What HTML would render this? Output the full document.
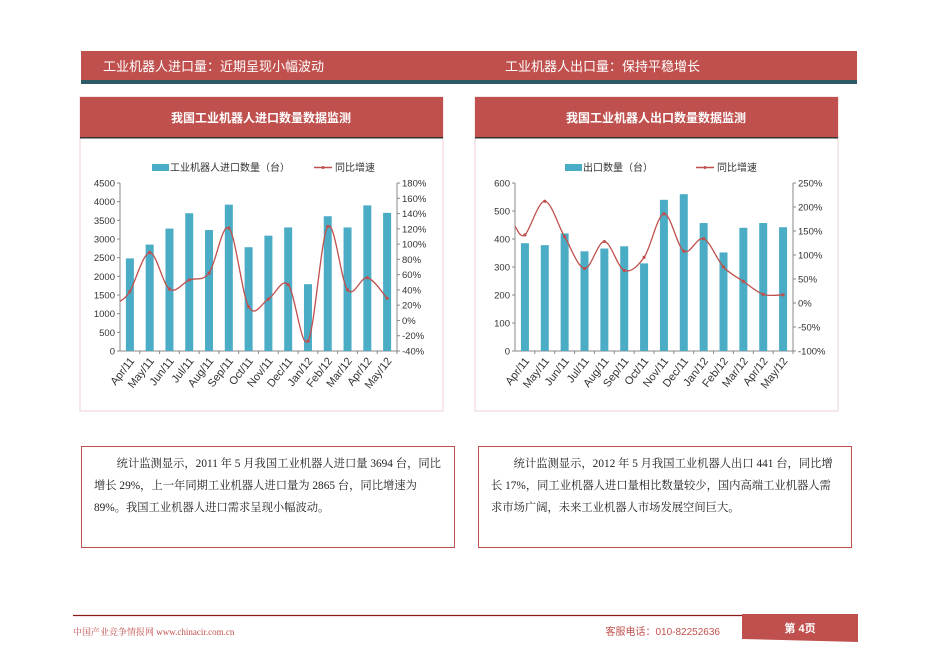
<!DOCTYPE html>
<html><head><meta charset="utf-8"><style>
body{margin:0;background:#fff;width:936px;height:662px;overflow:hidden;font-family:"Liberation Sans","Noto Sans CJK SC",sans-serif}
svg{position:absolute;left:0;top:0}
.tb{position:absolute;border:1px solid #c0504d;font-family:"Liberation Serif","Noto Serif CJK SC",serif;font-size:11.3px;line-height:22px;color:#222;padding:6px 12px;box-sizing:border-box;text-indent:2em}
</style></head><body>
<svg id="s" width="936" height="662" font-family="Liberation Sans, Noto Sans CJK SC, sans-serif"></svg>
<div class="tb" style="left:81px;top:446px;width:374px;height:102px">统计监测显示，2011 年 5 月我国工业机器人进口量 3694 台，同比增长 29%，上一年同期工业机器人进口量为 2865 台，同比增速为 89%。我国工业机器人进口需求呈现小幅波动。</div>
<div class="tb" style="left:478px;top:446px;width:374px;height:102px">统计监测显示，2012 年 5 月我国工业机器人出口 441 台，同比增长 17%，同工业机器人进口量相比数量较少，国内高端工业机器人需求市场广阔，未来工业机器人市场发展空间巨大。</div>
<script>
const s=document.getElementById('s');let h='';
const red='#c0504d';
h+=`<rect x="81" y="51" width="776" height="30" fill="${red}"/><rect x="81" y="80" width="776" height="4" fill="#2e5a66"/>`;
h+=`<text x="103" y="71" fill="#fff" font-size="13">工业机器人进口量：近期呈现小幅波动</text><text x="505" y="71" fill="#fff" font-size="13">工业机器人出口量：保持平稳增长</text>`;
const cats=['Apr/11','May/11','Jun/11','Jul/11','Aug/11','Sep/11','Oct/11','Nov/11','Dec/11','Jan/12','Feb/12','Mar/12','Apr/12','May/12'];
function path(p){let d=`M${p[0][0]},${p[0][1]}`;for(let i=0;i<p.length-1;i++){const a=p[i-1]||p[i],b=p[i],c=p[i+1],e=p[i+2]||c;d+=` C${b[0]+(c[0]-a[0])/6},${b[1]+(c[1]-a[1])/6} ${c[0]-(e[0]-b[0])/6},${c[1]-(e[1]-b[1])/6} ${c[0]},${c[1]}`;}return d;}
function chart(px,title,leg,x0,x1,lmax,lstep,rmin,rmax,rstep,rfmt,bars,line,start){
 h+=`<rect x="${px}" y="97" width="363" height="314" fill="#fff" stroke="#eed0d0"/><rect x="${px}" y="97" width="363" height="41" fill="${red}"/><rect x="${px}" y="137" width="363" height="1.5" fill="#333"/>`;
 h+=`<text x="${px+181}" y="122" fill="#fff" font-size="12" font-weight="bold" text-anchor="middle">${title}</text>`;
 const y0=351,y1=183,H=y0-y1,step=(x1-x0)/14;
 h+=`<rect x="${leg[0]}" y="164" width="17" height="7" fill="#4bacc6"/><text x="${leg[0]+18}" y="171" font-size="10" fill="#333">${leg[1]}</text>`;
 h+=`<line x1="${leg[2]}" x2="${leg[2]+18}" y1="167.5" y2="167.5" stroke="${red}" stroke-width="1.5"/><circle cx="${leg[2]+9}" cy="167.5" r="1.5" fill="${red}"/><text x="${leg[2]+21}" y="171" font-size="10" fill="#333">同比增速</text>`;
 h+=`<line x1="${x0}" x2="${x0}" y1="${y1}" y2="${y0}" stroke="#888"/><line x1="${x1}" x2="${x1}" y1="${y1}" y2="${y0}" stroke="#888"/><line x1="${x0}" x2="${x1}" y1="${y0}" y2="${y0}" stroke="#888"/>`;
 for(let v=0;v<=lmax;v+=lstep){const y=y0-v/lmax*H;h+=`<line x1="${x0-3}" x2="${x0}" y1="${y}" y2="${y}" stroke="#888"/><text x="${x0-5}" y="${y+3.5}" font-size="9.5" fill="#333" text-anchor="end">${v}</text>`;}
 for(let v=rmin;v<=rmax;v+=rstep){const y=y0-(v-rmin)/(rmax-rmin)*H;h+=`<line x1="${x1}" x2="${x1+3}" y1="${y}" y2="${y}" stroke="#888"/><text x="${x1+5}" y="${y+3.5}" font-size="9.5" fill="#333">${v}%</text>`;}
 const pts=[[x0,y0-(start-rmin)/(rmax-rmin)*H]];
 for(let i=0;i<14;i++){const cx=x0+step/2+step*i;const bh=bars[i]/lmax*H;
  h+=`<rect x="${cx-4}" y="${y0-bh}" width="8" height="${bh}" fill="#4bacc6"/>`;
  h+=`<line x1="${x0+step*(i+1)}" x2="${x0+step*(i+1)}" y1="${y0}" y2="${y0+3}" stroke="#888"/>`;
  h+=`<text transform="translate(${cx+5},${y0+10}) rotate(-52)" font-size="11" fill="#333" text-anchor="end">${cats[i]}</text>`;
  pts.push([cx,y0-(line[i]-rmin)/(rmax-rmin)*H]);}
 h+=`<path d="${path(pts)}" fill="none" stroke="${red}" stroke-width="1.3"/>`;
 pts.slice(1).forEach(p=>h+=`<circle cx="${p[0]}" cy="${p[1]}" r="1.6" fill="${red}"/>`);
}
chart(80,'我国工业机器人进口数量数据监测',[152,'工业机器人进口数量（台）',314],120,397,4500,500,-40,180,20,0,
 [2480,2850,3280,3690,3240,3920,2780,3090,3310,1790,3610,3310,3900,3700],[38,89,41,53,62,121,18,28,47,-27,123,40,56,29],25);
chart(475,'我国工业机器人出口数量数据监测',[565,'出口数量（台）',696],515,793,600,100,-100,250,50,0,
 [385,378,420,356,366,374,313,540,560,457,352,440,457,442],[142,212,138,72,128,68,95,186,108,134,75,45,18,17],160);
h+=`<line x1="73" x2="742" y1="615.5" y2="615.5" stroke="#8b1a1a" stroke-width="1.2"/>`;
h+=`<polygon points="742,614 858,614 858,642 742,639" fill="${red}"/><text x="800" y="632" fill="#fff" font-size="11" text-anchor="middle" font-weight="bold">第 4页</text>`;
h+=`<text x="73" y="635" font-size="9" fill="#c0504d" font-family="Liberation Serif, Noto Serif CJK SC, serif">中国产业竞争情报网 www.chinacir.com.cn</text>`;
h+=`<text x="720" y="635" font-size="10" fill="#c0504d" text-anchor="end">客服电话：010-82252636</text>`;
s.innerHTML=h;
</script>
</body></html>
